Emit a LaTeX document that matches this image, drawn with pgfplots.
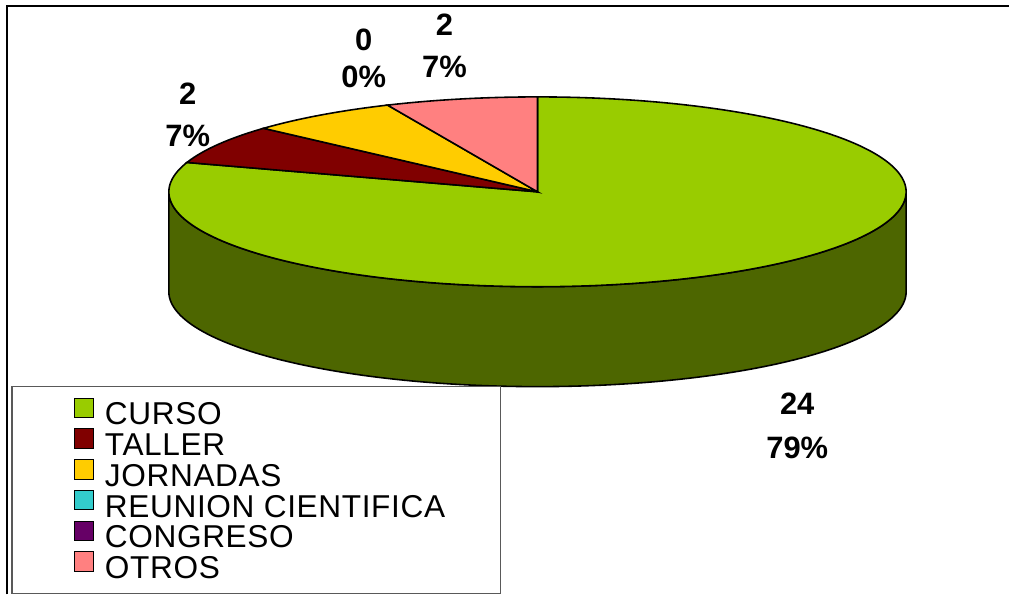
\documentclass[border=0pt]{standalone}
\usepackage{pgfplots}
\pgfplotsset{compat=1.18}
\usepackage{pgfplotstable}
\usepackage{fontspec}
\setmainfont{Liberation Sans}

\definecolor{cCurso}{HTML}{99CC00}
\definecolor{cTaller}{HTML}{800000}
\definecolor{cJorn}{HTML}{FFCC00}
\definecolor{cReun}{HTML}{33CCCC}
\definecolor{cCong}{HTML}{660066}
\definecolor{cOtros}{HTML}{FF8080}
\definecolor{cSide}{HTML}{4D6600}

\pgfplotstableread{
name value
CURSO 24
TALLER 2
JORNADAS 2
REUNION 0
CONGRESO 0
OTROS 2
}\piedata

\newcommand\getv[2]{\pgfplotstablegetelem{#1}{value}\of\piedata\edef#2{\pgfplotsretval}}
\getv{0}\vA\getv{1}\vB\getv{2}\vC\getv{3}\vD\getv{4}\vE\getv{5}\vF
\pgfmathsetmacro\tot{\vA+\vB+\vC+\vD+\vE+\vF}
\pgfmathsetmacro\aO{90}
\pgfmathsetmacro\aA{\aO-360*\vA/\tot}
\pgfmathsetmacro\aB{\aA-360*\vB/\tot}
\pgfmathsetmacro\aC{\aB-360*\vC/\tot}
\pgfmathsetmacro\aD{\aC-360*\vD/\tot}
\pgfmathsetmacro\aE{\aD-360*\vE/\tot}
\pgfmathsetmacro\aF{\aE-360*\vF/\tot}

\begin{document}%
\begin{tikzpicture}
\begin{axis}[
  width=20.2cm, height=11.9cm, scale only axis,
  xmin=0, xmax=1010, ymin=0, ymax=595, y dir=reverse,
  axis line style={draw=none}, xtick=\empty, ytick=\empty,
  clip=false,
  legend style={at={(axis cs:12,387)}, anchor=north west,
    draw=gray!70!black, line width=0.6pt,
    inner xsep=1.1cm, inner ysep=0.22cm, outer sep=0pt,
    font=\fontsize{18}{18}\selectfont\addfontfeatures{LetterSpace=2},
    nodes={inner sep=0pt, text height=0.36cm, text depth=0.07cm},
    row sep=0pt},
  legend cell align=left,
  legend image code/.code={
    \draw[#1, draw=black, line width=0.6pt] (0cm,0cm) rectangle (0.38cm,0.39cm);
    \path (-0.14cm,0.1cm) (0.6cm,0.1cm);
  },
]
% frame
\addplot[forget plot, black, line width=1.1pt] coordinates {(6.7,595) (6.7,5.7) (1010,5.7)};

% side wall (front half)
\addplot[forget plot, fill=cSide, draw=black, line width=0.9pt, domain=0:360, samples=361, variable=\t]
  ({538+369*cos(\t-180)}, {(\t<=180) ? (192-95*sin(\t-180)) : (292+95*sin(\t-180))}) -- cycle;

% top slices
\addplot[forget plot, fill=cCurso, draw=black, line width=0.9pt, domain=\aA:\aO, samples=200, variable=\t]
  ({538+369*cos(\t)}, {192-95*sin(\t)}) -- (axis cs:538,192) -- cycle;
\addplot[forget plot, fill=cTaller, draw=black, line width=0.9pt, domain=\aB:\aA, samples=30, variable=\t]
  ({538+369*cos(\t)}, {192-95*sin(\t)}) -- (axis cs:538,192) -- cycle;
\addplot[forget plot, fill=cJorn, draw=black, line width=0.9pt, domain=\aC:\aB, samples=30, variable=\t]
  ({538+369*cos(\t)}, {192-95*sin(\t)}) -- (axis cs:538,192) -- cycle;
\addplot[forget plot, fill=cOtros, draw=black, line width=0.9pt, domain=\aF:\aE, samples=30, variable=\t]
  ({538+369*cos(\t)}, {192-95*sin(\t)}) -- (axis cs:538,192) -- cycle;

% data labels
\node[align=center, font=\fontsize{17.6}{25}\selectfont\bfseries] at (axis cs:798,426) {24\\79\%};
\node[align=center, font=\fontsize{17.6}{23.8}\selectfont\bfseries] at (axis cs:188,115) {2\\7\%};
\node[align=center, font=\fontsize{17.6}{21}\selectfont\bfseries] at (axis cs:364,58.5) {0\\0\%};
\node[align=center, font=\fontsize{17.6}{23.8}\selectfont\bfseries] at (axis cs:445,46) {2\\7\%};

% legend
\addlegendimage{fill=cCurso}\addlegendentry{CURSO}
\addlegendimage{fill=cTaller}\addlegendentry{TALLER}
\addlegendimage{fill=cJorn}\addlegendentry{JORNADAS}
\addlegendimage{fill=cReun}\addlegendentry{REUNION CIENTIFICA}
\addlegendimage{fill=cCong}\addlegendentry{CONGRESO}
\addlegendimage{fill=cOtros}\addlegendentry{OTROS}
\end{axis}
\end{tikzpicture}%
\end{document}
